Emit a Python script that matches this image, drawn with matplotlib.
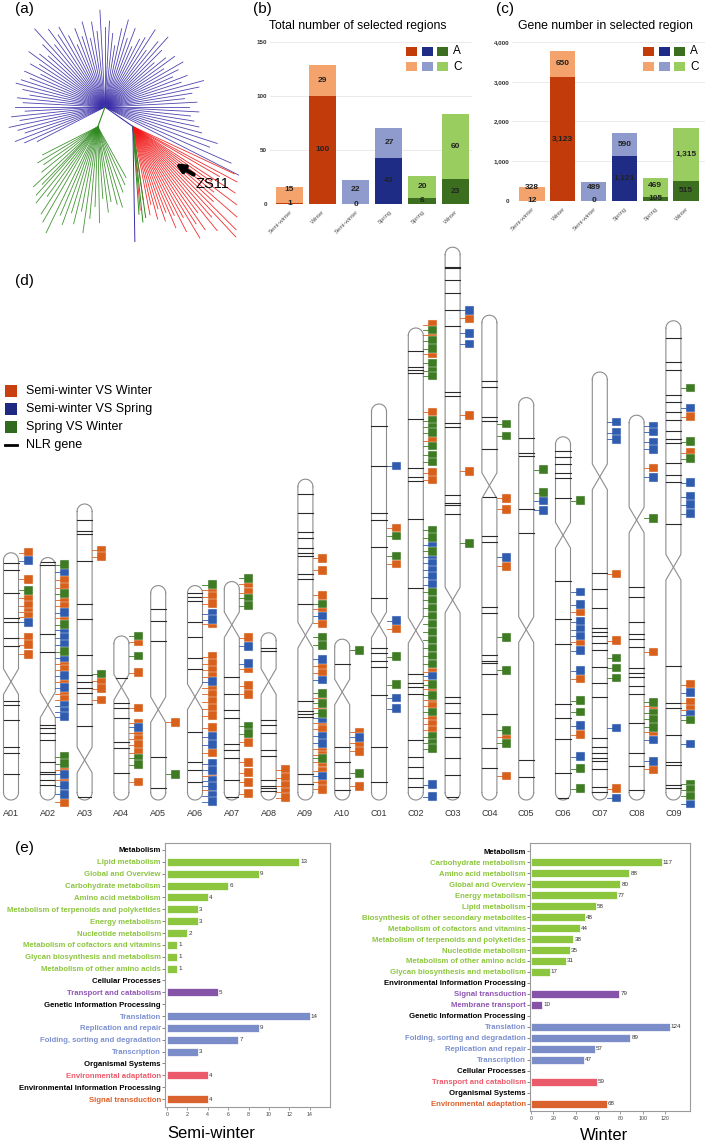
import numpy as np
import matplotlib
matplotlib.use('Agg')
import matplotlib.pyplot as plt
from matplotlib.patches import Rectangle

plt.rcParams['font.family'] = ['Liberation Sans', 'DejaVu Sans']

# ---------------- data ----------------
# (a) tree: branches as (angle in degrees, length in px) from the nodes
BLUE_ANG = [-27, -24, -21, -18, -15, -12, -9, -6, -3, 0, 3, 6, 9, 12, 15, 18, 21, 24, 27, 30,
            33, 36, 39, 42, 45, 48, 51, 54, 57, 60, 63, 66, 69, 72, 75, 78, 81, 84, 87, 90,
            93, 96, 99, 102, 105, 108, 111, 114, 117, 120, 123, 126, 129, 132, 135, 138, 141,
            144, 147, 150, 153, 156, 159, 162, 165, 168, 171, 174, 177, 180, 183, 186, 189,
            192, 195, 198, 201, 204, 207]
BLUE_LEN = [150, 138, 112, 118, 100, 96, 90, 86, 94, 84, 92, 80, 88, 96, 102, 80, 88, 74, 82, 90,
            70, 86, 78, 66, 80, 94, 84, 70, 92, 80, 76, 66, 84, 72, 90, 80, 62, 74, 86, 80,
            97, 76, 86, 70, 88, 74, 84, 68, 80, 92, 86, 96, 80, 105, 88, 76, 84,
            94, 78, 86, 72, 88, 80, 88, 92, 84, 76, 88, 82, 90, 80, 94, 86, 98, 90, 84, 96, 88, 76]
GREEN_STEM = (250, 21)
GREEN_ANG = [207, 211, 215, 219, 223, 226, 228, 231, 234, 237, 240, 244, 247, 250, 253, 256,
             259, 262, 265, 268, 271, 274, 277, 280, 284, 287, 291, 295, 299]
GREEN_LEN = [62, 70, 66, 72, 88, 80, 92, 98, 86, 104, 110, 118, 96, 104, 90, 100,
             86, 107, 92, 80, 96, 72, 86, 76, 80, 84, 70, 64, 58]
RED_STEM = (-35, 34)
RED_ANG = [-25, -28, -30, -33, -35, -37, -39, -41, -43, -45, -47, -49, -51, -53, -55, -57,
           -59, -61, -63, -65, -67, -69, -71, -73, -75, -77, -79, -82, -85]
RED_LEN = [112, 118, 100, 122, 96, 130, 104, 138, 110, 146, 151, 120, 134, 108, 126, 116,
           130, 104, 118, 98, 110, 92, 100, 86, 96, 80, 90, 74, 84]
MIXED_ANG = [-82, -84, -86, -89]
MIXED_LEN = [92, 96, 88, 115]
MIXED_KIND = ['green', 'green', 'green', 'blue']

# (b) and (c)
GROUP_LABELS = ['Semi-winter', 'Winter', 'Semi-winter', 'Spring', 'Spring', 'Winter']
REGIONS_A = [1, 100, 0, 43, 6, 23]
REGIONS_C = [15, 29, 22, 27, 20, 60]
GENES_A = [12, 3123, 0, 1121, 105, 515]
GENES_C = [328, 650, 489, 590, 469, 1315]
COMPARISON = [0, 0, 1, 1, 2, 2]

# (d) chromosomes, positions in Mb from the top of each chromosome
CHROM_NAMES = ['A01', 'A02', 'A03', 'A04', 'A05', 'A06', 'A07', 'A08', 'A09', 'A10',
               'C01', 'C02', 'C03', 'C04', 'C05', 'C06', 'C07', 'C08', 'C09']
CHROM_LEN = [30.9, 30.3, 37.0, 20.5, 26.8, 26.8, 27.3, 20.9, 40.1, 20.1,
             49.5, 59.0, 69.1, 60.6, 50.3, 45.4, 53.5, 48.1, 59.9]
CENTROMERE = [16.1, 18.4, 32.0, 6.4, 15.5, 13.9, 5.4, 6.1, 19.5, 6.6,
              27.6, 37.8, 44.1, 21.3, 29.0, 12.3, 13.1, 13.1, 30.8]
NLR_GENES = [
    [1.3, 2.2, 5.0, 8.1, 8.6, 10.6, 11.6, 18.5, 19.0, 20.9, 24.3, 25.0, 27.6],
    [0.6, 0.9, 9.6, 11.75, 20.9, 21.25, 21.9, 22.75, 25.6, 26.75, 27.1, 27.75, 28.4],
    [2, 3.4, 3.75, 7.1, 12.5, 14.4, 18.9, 21.4, 22.25, 23, 23.6, 25, 27.75, 36.6],
    [5.25, 8.4, 9, 10.25, 13.25, 14, 17.1],
    [2.9, 4.4, 6.9, 21.4, 25.25],
    [0.9, 1.4, 1.9, 4.5, 6.4, 9.1, 10.4, 18.25, 22, 23, 24.6],
    [11.9, 14, 16, 17.1, 20.25, 21, 22, 24.75, 26.9],
    [1.9, 2.25, 10.9, 11.5, 12.5, 14.6, 15.4, 18.4, 19.1, 19.4, 19.75],
    [1.9, 4.25, 6.6, 7.4, 8.6, 9.25, 9.6, 11.9, 12.5, 15.6, 27.75, 29, 29.4, 29.75, 36.9, 38.1],
    [3.1, 13.5, 15.4, 17.4, 18.9],
    [2.75, 7.75, 13.6, 14.5, 17.9, 24.25, 30.5, 31.1, 32.1, 32.9, 36.4, 42.9, 47.25],
    [2.9, 4.9, 5.25, 5.6, 11.4, 17.5, 18.6, 19.1, 23.9, 32.5, 43.25, 44.4, 44.9, 45.75,
     51.5, 53.6, 54.9, 56.25, 57.4],
    [2.5, 2.6, 4.1, 5.75, 7.9, 9.9, 18.1, 18.6, 22, 22.5, 31, 32, 32.25, 33.4, 56.25, 57,
     58.25, 60.1, 61.25, 63.9, 66, 68.75],
    [8.25, 9, 12.75, 13.25, 16.75, 22.75, 27.6, 28.4, 36.5, 37.25, 42.5, 43.25, 43.5, 44.9,
     49.9, 54.1, 56.6],
    [5.1, 6.9, 7.25, 13.9, 16.9, 45.25, 47.4],
    [1.75, 2.5, 3.4, 4.5, 5.1, 7.6, 18, 22.75, 25.9, 33.4, 35.1, 37.75, 42, 45.1],
    [25.1, 27.1, 29.5, 32, 32.5, 33, 33.9, 34.75, 36.9, 38.9, 40.6, 45.75, 46.9, 47.6, 48.25,
     48.6, 49.6, 51.9, 52.5],
    [21.5, 22.75, 25.9, 27.4, 28, 29, 31.6, 32.25, 32.75, 33.9, 34.9, 38.5, 42.25, 43.9, 46.9],
    [2.1, 5.1, 6.1, 9.25, 10.1, 11.4, 12.4, 13.75, 14.75, 15.25, 17.75, 19.25, 20.1, 25.4,
     43.1, 47.75, 48.4, 51.75, 55.1, 55.5, 58, 58.4],
]
# selected regions: Semi-winter VS Winter
SEL_SW_W = [
    [0, 3.3, 5.7, 6.6, 7.4, 8.0, 10.6, 11.5, 12.7],
    [2.75, 3.75, 5.25, 6.1, 7.6, 13.25, 14, 15.5, 17, 17.75, 26.5, 27.75, 30.6],
    [5.75, 6.6, 22.1, 23.1, 24.5],
    [0.75, 4.6, 9, 10.9, 12.1, 12.9, 13.6, 14.6, 18.25],
    [17.1],
    [0.6, 1.4, 2.25, 4.75, 8.9, 9.75, 10.6, 11.4, 12.75, 13.6, 14.5, 15.4, 16.25, 17.75,
     20.9, 23.75, 25.6],
    [0.25, 1.4, 7, 10.9, 13, 14.1, 20.1, 22.6, 23.9, 25.1, 26.5],
    [17.1, 18.1, 19.1, 19.9, 20.6],
    [9.9, 11.4, 14.5, 16.25, 18, 23.4, 24.25, 27.4, 28.6, 30.5, 31.25, 33.75, 34.5, 35.4,
     36.5, 37.9, 38.75],
    [11.6, 13, 14, 18.4],
    [15.5, 20, 28.1],
    [-0.4, 0.9, 3.25, 10.5, 14.1, 18.1, 19, 43, 44, 45.1, 46.5, 47.25, 48.75, 49.5, 50.25],
    [8.9, 21, 28],
    [22.9, 24.25, 31.4, 52.75, 57.6],
    [],
    [21.9, 25.6, 30.25, 37.25],
    [25.25, 33.6, 52.1],
    [6.6, 29.6, 36.4, 39.6, 44.25],
    [12, 16.5, 45.5, 47.75, 48.6],
]
# selected regions: Semi-winter VS Spring
SEL_SW_S = [
    [1.0, 8.7],
    [1.75, 6.9, 9.1, 10, 10.9, 12.5, 14.75, 16.25, 18.5, 19.25, 19.9, 27.1, 28.5, 29.6],
    [],
    [11.4],
    [],
    [3.5, 4.25, 12, 18.9, 19.9, 22.25, 23.1, 24.4, 25.1, 26.25, 27],
    [8.1, 10.25],
    [],
    [17.1, 22.5, 25.1, 29.9, 32.1, 33, 37.1],
    [12.25],
    [7.75, 27.1, 36.75, 38.1],
    [27.1, 28.6, 29.4, 30.25, 31.1, 32.1, 43.5, 57.1, 58.6],
    [7.9, 10.75, 12.1],
    [30.25],
    [12.9, 14.1],
    [19.4, 21, 23.1, 24.1, 24.9, 26.75, 29.25, 36.1, 40],
    [6.25, 7.6, 8.4, 44.5, 53.25],
    [1.4, 2.1, 3.4, 4.25, 7.75, 40.6, 43.25],
    [10.9, 20.25, 22, 23, 24.1, 46.5, 49.25, 52.9, 60.4],
]
# selected regions: Spring VS Winter
SEL_S_W = [
    [4.7],
    [0.9, 4.5, 8.4, 11.75, 24.9, 25.75],
    [21.25],
    [0, 2.5, 15.25, 16.1],
    [23.6],
    [-0.1],
    [-0.4, 2.1, 3, 18.1, 19],
    [],
    [15.6, 19.75, 20.75, 26.75, 28, 29.25, 34.9],
    [1.4, 16.75],
    [16.5, 19, 31.6, 35.1],
    [0.25, 1.6, 2.6, 4.4, 5.4, 6, 11.6, 12.4, 13.1, 14.75, 15.9, 16.75, 25.25, 26.2, 27.9,
     33, 34, 35, 36, 37, 38, 39, 40, 41, 42, 44.6, 45.9, 48, 51.1, 51.9, 52.6],
    [37],
    [13.6, 15.1, 40.25, 44.4, 51.9, 53.5],
    [9, 11.9],
    [8, 33, 34.4, 41.5, 44],
    [35.75, 37, 38.25],
    [12.9, 35.9, 37.25, 38, 39],
    [8.4, 15.1, 17.25, 49.9, 57.9, 58.6, 59.4],
]
LEGEND_D = ['Semi-winter VS Winter', 'Semi-winter VS Spring', 'Spring VS Winter', 'NLR gene']

# (e) KEGG classes
SW_GROUPS = ['Metabolism', 'Cellular Processes', 'Genetic Information Processing',
             'Organismal Systems', 'Environmental Information Processing']
SW_TERMS = [
    ['Lipid metabolism', 'Global and Overview', 'Carbohydrate metabolism',
     'Amino acid metabolism', 'Metabolism of terpenoids and polyketides', 'Energy metabolism',
     'Nucleotide metabolism', 'Metabolism of cofactors and vitamins',
     'Glycan biosynthesis and metabolism', 'Metabolism of other amino acids'],
    ['Transport and catabolism'],
    ['Translation', 'Replication and repair', 'Folding, sorting and degradation', 'Transcription'],
    ['Environmental adaptation'],
    ['Signal transduction'],
]
SW_COUNTS = [[13, 9, 6, 4, 3, 3, 2, 1, 1, 1], [5], [14, 9, 7, 3], [4], [4]]

WI_GROUPS = ['Metabolism', 'Environmental Information Processing',
             'Genetic Information Processing', 'Cellular Processes', 'Organismal Systems']
WI_TERMS = [
    ['Carbohydrate metabolism', 'Amino acid metabolism', 'Global and Overview',
     'Energy metabolism', 'Lipid metabolism', 'Biosynthesis of other secondary metabolites',
     'Metabolism of cofactors and vitamins', 'Metabolism of terpenoids and polyketides',
     'Nucleotide metabolism', 'Metabolism of other amino acids',
     'Glycan biosynthesis and metabolism'],
    ['Signal transduction', 'Membrane transport'],
    ['Translation', 'Folding, sorting and degradation', 'Replication and repair', 'Transcription'],
    ['Transport and catabolism'],
    ['Environmental adaptation'],
]
WI_COUNTS = [[117, 88, 80, 77, 58, 48, 44, 38, 35, 31, 17], [79, 10], [124, 89, 57, 47], [59], [68]]

# ---------------- styles ----------------
W, H = 709, 1142
DARK = ['#C23B0B', '#1F2C85', '#3C6E1F']
LIGHT = ['#F4A36C', '#8E9BCC', '#9ACD5F']
MARK_COL = ['#D9601B', '#2F5CAE', '#3E7B23']
LEG_COL = ['#C8400F', '#1E2A82', '#2F6A1F']
TREE_COL = {'blue': '#3B2FA8', 'green': '#2F8A1F', 'red': '#F21515'}
KEGG_COL = ['#8CC63E', '#8553A8', '#7B8DC9', '#EA5A6B', '#D9622F']
KEGG_TXT = ['#8DC63F', '#9057B3', '#7D91D0', '#EE5A6A', '#E0602A']

fig = plt.figure(figsize=(W / 100, H / 100), dpi=100)


def add_ax(left, top, width, height):
    return fig.add_axes([left / W, 1 - (top + height) / H, width / W, height / H])


def fig_text(x, y, s, **kw):
    fig.text(x / W, 1 - y / H, s, **kw)


def fig_rect(x, y, w, h, color):
    fig.add_artist(Rectangle((x / W, 1 - (y + h) / H), w / W, h / H, transform=fig.transFigure,
                             facecolor=color, edgecolor='none'))


# ---------------- (a) tree ----------------
axa = add_ax(0, 0, 245, 250)
axa.set_xlim(-105, 140)
axa.set_ylim(143, -107)
axa.axis('off')


def tip(origin, ang, length):
    a = np.deg2rad(ang)
    return origin[0] + length * np.cos(a), origin[1] - length * np.sin(a)


hub = (0.0, 0.0)
g_root = tip(hub, *GREEN_STEM)
r_root = tip(hub, *RED_STEM)
for ang, ln in zip(BLUE_ANG, BLUE_LEN):
    x1, y1 = tip(hub, ang, ln)
    axa.plot([hub[0], x1], [hub[1], y1], color=TREE_COL['blue'], lw=0.6, alpha=0.9)
axa.plot([hub[0], g_root[0]], [hub[1], g_root[1]], color=TREE_COL['green'], lw=0.8)
axa.plot([hub[0], r_root[0]], [hub[1], r_root[1]], color=TREE_COL['blue'], lw=0.8)
for ang, ln in zip(GREEN_ANG, GREEN_LEN):
    x1, y1 = tip(g_root, ang, ln)
    axa.plot([g_root[0], x1], [g_root[1], y1], color=TREE_COL['green'], lw=0.6, alpha=0.9)
for ang, ln in zip(RED_ANG, RED_LEN):
    x1, y1 = tip(r_root, ang, ln)
    axa.plot([r_root[0], x1], [r_root[1], y1], color=TREE_COL['red'], lw=0.6, alpha=0.9)
for ang, ln, kind in zip(MIXED_ANG, MIXED_LEN, MIXED_KIND):
    x1, y1 = tip(r_root, ang, ln)
    axa.plot([r_root[0], x1], [r_root[1], y1], color=TREE_COL[kind], lw=0.7)
axa.annotate('', xy=(68, 55), xytext=(91, 69),
             arrowprops=dict(arrowstyle='-|>', lw=3, color='black', mutation_scale=12))
axa.text(90, 77, 'ZS11', fontsize=10.5, ha='left', va='center')


# ---------------- (b) and (c) stacked bars ----------------
def stacked(ax, a_vals, c_vals, ymax, ticks, fmt, gap):
    x = np.arange(len(a_vals))
    for i in x:
        k = COMPARISON[i]
        ax.bar(i, a_vals[i], width=0.82, color=DARK[k], zorder=2)
        ax.bar(i, c_vals[i], bottom=a_vals[i], width=0.82, color=LIGHT[k], zorder=2)
        ya = a_vals[i] / 2
        yc = max(a_vals[i] + c_vals[i] / 2, ya + gap)
        ax.text(i, ya, fmt(a_vals[i]), ha='center', va='center', fontsize=6,
                fontweight='bold', color='#222', zorder=3, clip_on=False)
        ax.text(i, yc, fmt(c_vals[i]), ha='center', va='center', fontsize=6,
                fontweight='bold', color='#222', zorder=3)
    ax.set_ylim(0, ymax)
    ax.set_yticks(ticks)
    ax.set_yticklabels([fmt(t) for t in ticks])
    ax.yaxis.grid(True, color='#e6e6e6', lw=0.6, zorder=0)
    ax.set_axisbelow(True)
    for s in ax.spines.values():
        s.set_visible(False)
    ax.tick_params(axis='y', length=0, pad=2, labelsize=4.5, labelcolor='#333')
    for lbl in ax.get_yticklabels():
        lbl.set_fontweight('bold')
    ax.set_xticks(x)
    ax.set_xticklabels(GROUP_LABELS, rotation=45, ha='right', rotation_mode='anchor',
                       fontsize=4.2, color='#555')
    ax.tick_params(axis='x', length=0, pad=4)


axb = add_ax(270, 38, 202, 166)
axb.set_xlim(-0.59, 5.51)
stacked(axb, REGIONS_A, REGIONS_C, 153.7, [0, 50, 100, 150], lambda v: f'{v:,}', 13)

axc = add_ax(512, 38, 193, 163)
axc.set_xlim(-0.65, 5.62)
stacked(axc, GENES_A, GENES_C, 4100, [0, 1000, 2000, 3000, 4000], lambda v: f'{v:,}', 330)

fig_text(358, 26, 'Total number of selected regions', fontsize=8.8, ha='center', va='center')
fig_text(605, 26, 'Gene number in selected region', fontsize=8.8, ha='center', va='center')
for xs, xt in [((406, 422, 437), 453), ((643, 659, 674), 690)]:
    for k in range(3):
        fig_rect(xs[k], 47, 11, 9, DARK[k])
        fig_rect(xs[k], 62, 11, 9, LIGHT[k])
    fig_text(xt, 51.5, 'A', fontsize=8.5, ha='left', va='center')
    fig_text(xt, 66.5, 'C', fontsize=8.5, ha='left', va='center')

# ---------------- (d) chromosomes ----------------
axd = add_ax(0, 240, 709, 580)
axd.set_xlim(-11 / 36.8, (709 - 11) / 36.8)
axd.set_ylim(-2.5, 70)
axd.axis('off')
hw = 7.5 / 36.8
ry = 7.5 / 8
pinch = 1.6
sq_w = 9 / 36.8
sq_h = 1.1
gap_x = 5 / 36.8
OUT = '#8c8c8c'


def half_width(y, L, yc):
    if y > L - ry:
        return hw * np.sqrt(max(0.0, 1 - ((y - (L - ry)) / ry) ** 2))
    if y < ry:
        return hw * np.sqrt(max(0.0, 1 - ((ry - y) / ry) ** 2))
    if abs(y - yc) < pinch:
        return hw * abs(y - yc) / pinch
    return hw


t = np.linspace(0, np.pi, 40)
for i, name in enumerate(CHROM_NAMES):
    L = CHROM_LEN[i]
    yc = L - CENTROMERE[i]
    lx, rx = i - hw, i + hw
    axd.plot([lx, lx, rx, rx], [ry, yc - pinch, yc + pinch, L - ry], color=OUT, lw=0.8)
    axd.plot([rx, rx, lx, lx], [ry, yc - pinch, yc + pinch, L - ry], color=OUT, lw=0.8)
    axd.plot(i + hw * np.cos(t), L - ry + ry * np.sin(t), color=OUT, lw=0.8)
    axd.plot(i + hw * np.cos(t), ry - ry * np.sin(t), color=OUT, lw=0.8)
    for b in NLR_GENES[i]:
        y = L - b
        hwy = half_width(y, L, yc)
        axd.plot([i - hwy, i + hwy], [y, y], color='#2a2a2a', lw=0.8)
    for k, sel in enumerate([SEL_SW_W, SEL_SW_S, SEL_S_W]):
        for p in sel[i]:
            y = L - p
            axd.plot([rx, rx + gap_x], [y, y], color=MARK_COL[k], lw=0.6)
            axd.add_patch(Rectangle((rx + gap_x, y - sq_h / 2), sq_w, sq_h,
                                    facecolor=MARK_COL[k], edgecolor='#eeeeee', lw=0.3))
    axd.text(i, -1.75, name, ha='center', va='center', fontsize=6.5, color='#333')

for k in range(3):
    fig_rect(5, 385 + 18 * k, 12, 12, LEG_COL[k])
fig.add_artist(plt.Line2D([5 / W, 17 / W], [1 - 445 / H, 1 - 445 / H],
                          transform=fig.transFigure, color='black', lw=2))
for k, lbl in enumerate(LEGEND_D):
    fig_text(26, 391 + 18 * k, lbl, fontsize=9, ha='left', va='center')


# ---------------- (e) KEGG bars ----------------
def kegg(ax, groups, terms, counts, xmax, ticks, row_top):
    labels, colors = [], []
    r = 0
    for gi, g in enumerate(groups):
        labels.append(g)
        colors.append('black')
        r += 1
        for term, c in zip(terms[gi], counts[gi]):
            labels.append(term)
            colors.append(KEGG_TXT[gi])
            ax.barh(r, c, height=0.68, color=KEGG_COL[gi], edgecolor='white', lw=0.5)
            ax.text(c + xmax * 0.006, r, str(c), va='center', ha='left', fontsize=4.5, color='#333')
            r += 1
    ax.set_ylim(row_top[1], row_top[0])
    ax.set_xlim(row_top[2], xmax)
    ax.set_yticks(range(len(labels)))
    ax.set_yticklabels(labels)
    for lbl, col in zip(ax.get_yticklabels(), colors):
        lbl.set_color(col)
        lbl.set_fontweight('bold')
    ax.set_xticks(ticks)
    ax.tick_params(axis='y', length=2, width=0.5, color='#555', labelsize=5.6, pad=1)
    ax.tick_params(axis='x', length=2, width=0.5, color='#777', labelsize=3.8,
                   labelcolor='#444', pad=1.5)
    for s in ax.spines.values():
        s.set_color('#9a9a9a')
        s.set_linewidth(0.8)


axe1 = add_ax(165, 843, 165, 264)
kegg(axe1, SW_GROUPS, SW_TERMS, SW_COUNTS, 16.0, range(0, 15, 2), (-0.59, 21.67, -0.2))
axe2 = add_ax(530, 843, 160, 268)
kegg(axe2, WI_GROUPS, WI_TERMS, WI_COUNTS, 142.3, range(0, 121, 20), (-0.73, 23.64, -0.9))
fig_text(211, 1133, 'Semi-winter', fontsize=12, ha='center', va='center')
fig_text(604, 1135, 'Winter', fontsize=12, ha='center', va='center')

# panel letters
for lbl, x, y in [('(a)', 15, 9), ('(b)', 253, 9), ('(c)', 496, 9), ('(d)', 15, 281), ('(e)', 15, 848)]:
    fig_text(x, y, lbl, fontsize=11, ha='left', va='center')

fig.savefig('out.png', dpi=100)
